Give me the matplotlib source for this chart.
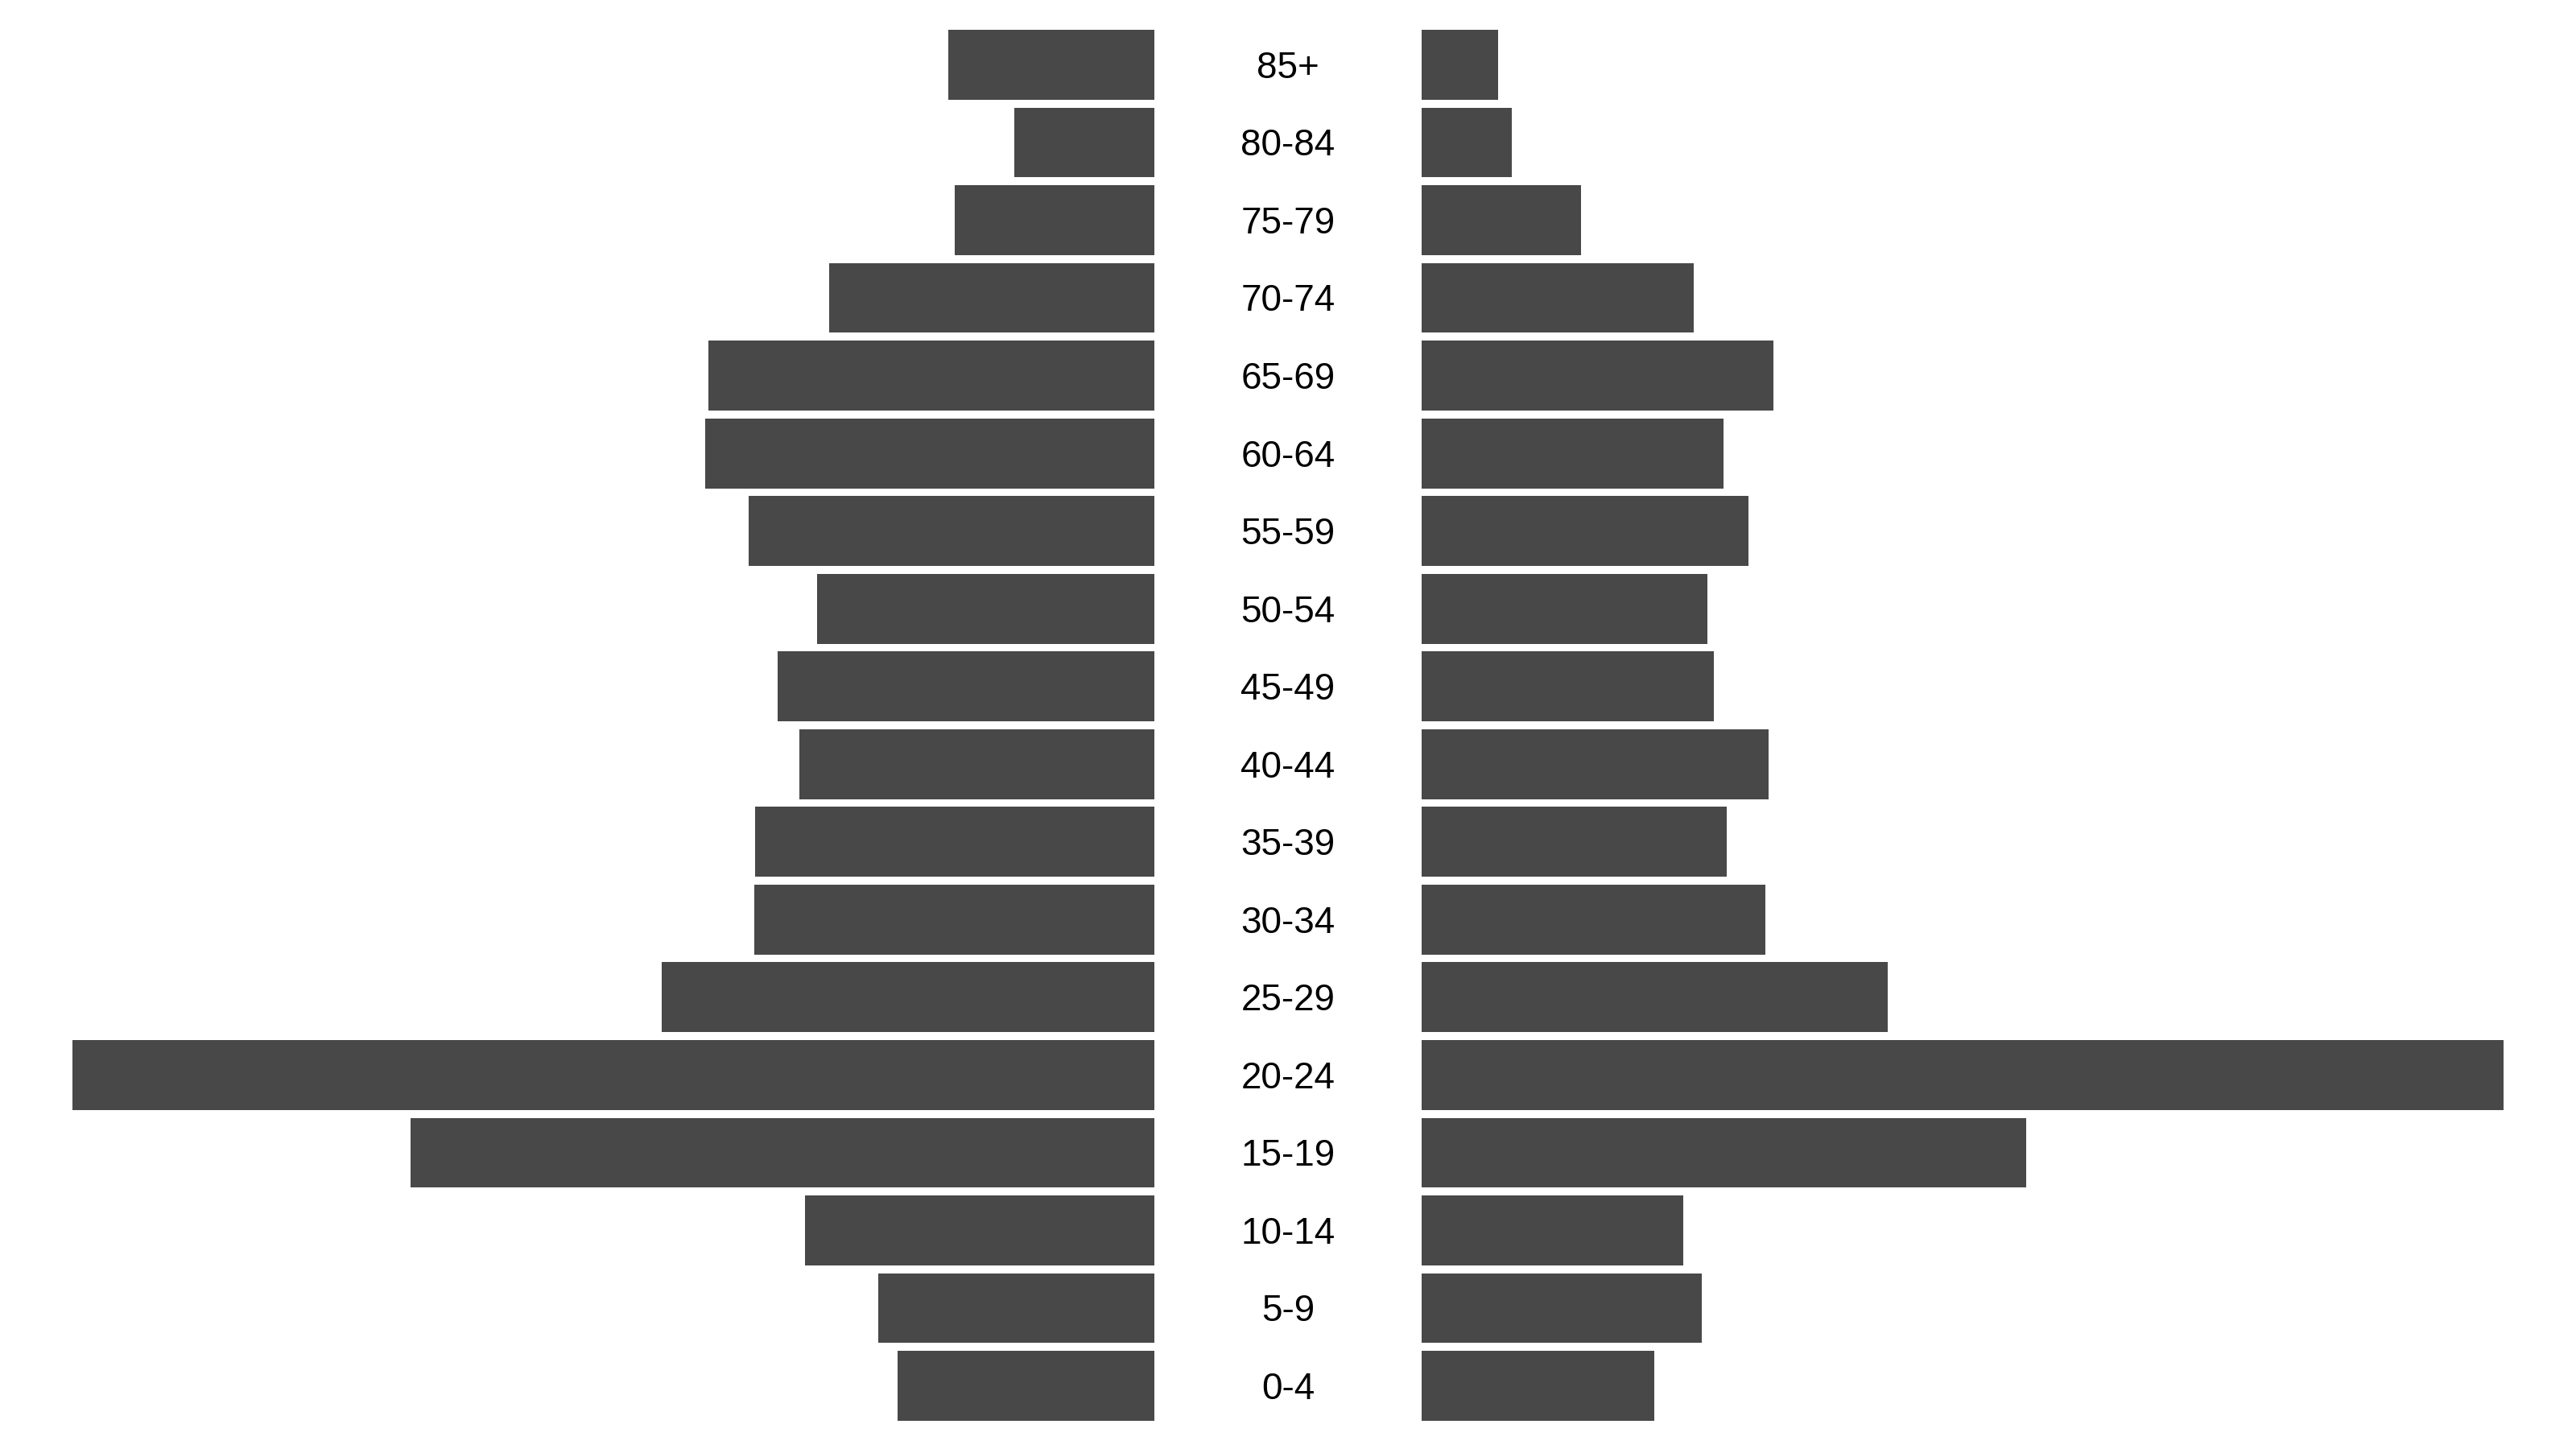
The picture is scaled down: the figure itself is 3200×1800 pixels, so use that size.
import matplotlib.pyplot as plt
import matplotlib.transforms as mtransforms
import numpy as np

plt.rcParams["font.family"] = ["Liberation Sans", "DejaVu Sans"]

age_groups = ["0-4", "5-9", "10-14", "15-19", "20-24", "25-29", "30-34", "35-39", "40-44",
              "45-49", "50-54", "55-59", "60-64", "65-69", "70-74", "75-79", "80-84", "85+"]
left_values = [319, 343, 434, 924, 1344, 612, 497, 496, 441,
               468, 419, 504, 558, 554, 404, 248, 174, 256]
right_values = [289, 348, 325, 751, 1344, 579, 427, 379, 431,
                363, 355, 406, 375, 437, 338, 198, 112, 95]

bar_color = "#484848"

fig = plt.figure(figsize=(16, 9), dpi=200)
ax_l = fig.add_axes([0.028125, 0.019444, 0.42, 0.96])
ax_r = fig.add_axes([0.551875, 0.019444, 0.42, 0.96])

y = np.arange(len(age_groups))
xmax = max(max(left_values), max(right_values))

ax_l.barh(y, left_values, height=0.9, color=bar_color)
ax_r.barh(y, right_values, height=0.9, color=bar_color)

for ax in (ax_l, ax_r):
    ax.set_ylim(-0.45, len(age_groups) - 0.55)
    ax.set_axis_off()
ax_l.set_xlim(xmax, 0)
ax_r.set_xlim(0, xmax)

# age labels in the gap between the two halves, digits centred on the bars
trans = mtransforms.blended_transform_factory(fig.transFigure, ax_l.transData)
trans = trans + mtransforms.ScaledTranslation(0, -5.9 / 72, fig.dpi_scale_trans)
for yi, label in zip(y, age_groups):
    ax_l.text(0.5, yi, label, transform=trans, ha="center", va="baseline",
              fontsize=16.5, color="black")

fig.savefig("out.png", dpi=200, facecolor="white")
plt.close(fig)
